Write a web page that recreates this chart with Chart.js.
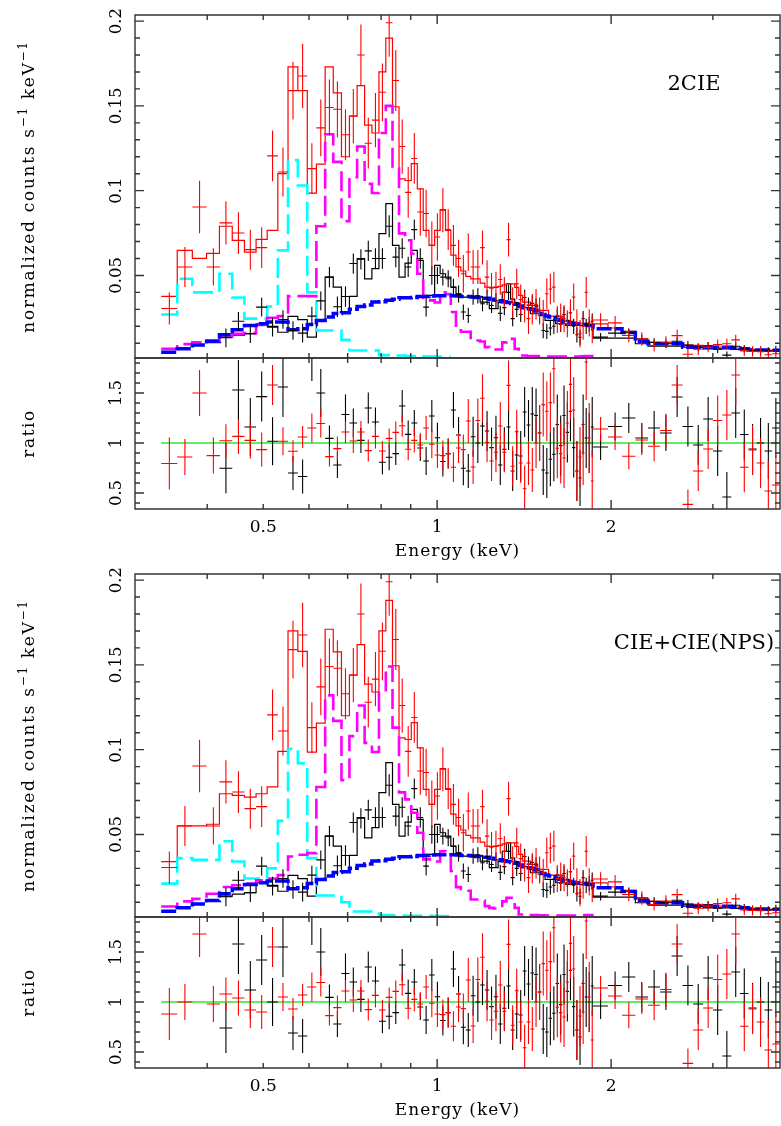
<!DOCTYPE html>
<html lang="en">
<head>
<meta charset="UTF-8">
<title>Spectra: 2CIE and CIE+CIE(NPS)</title>
<script src="https://cdn.jsdelivr.net/npm/chart.js"></script>
<style>
  body { margin: 0; background: #fff; }
  #wrap { position: relative; width: 781px; height: 1126px; overflow: hidden; }
  canvas { position: absolute; left: 0; }
</style>
</head>
<body>
<div id="wrap">
  <canvas id="spec1" width="781" height="372" style="top:0px"></canvas>
  <canvas id="ratio1" width="781" height="230" style="top:340px"></canvas>
  <canvas id="spec2" width="781" height="372" style="top:559px"></canvas>
  <canvas id="ratio2" width="781" height="230" style="top:899px"></canvas>
</div>
<script>
// ---- energy grid (keV): bin centres, 0.022 keV bins up to ~1.86 keV, then wide bins
const binE = [
  0.344, 0.366, 0.388, 0.410, 0.431, 0.453, 0.475, 0.497, 0.519, 0.541,
  0.563, 0.585, 0.607, 0.629, 0.651, 0.672, 0.694, 0.716, 0.738, 0.760,
  0.782, 0.804, 0.826, 0.848, 0.870, 0.891, 0.913, 0.935, 0.957, 0.979,
  1.001, 1.023, 1.045, 1.067, 1.089, 1.110, 1.132, 1.154, 1.176, 1.198,
  1.220, 1.242, 1.264, 1.286, 1.307, 1.329, 1.351, 1.373, 1.395, 1.417,
  1.439, 1.461, 1.483, 1.504, 1.526, 1.548, 1.570, 1.592, 1.614, 1.636,
  1.658, 1.680, 1.701, 1.723, 1.745, 1.767, 1.789, 1.811, 1.833, 1.855,
  1.918, 2.032, 2.146, 2.260, 2.374, 2.488, 2.602, 2.716, 2.830, 2.944,
  3.058, 3.172, 3.286, 3.400, 3.514, 3.628, 3.742, 3.856
];
const FINE_BINS = 70, FINE_HW = 0.011, WIDE_HW = 0.057;

// ---- data (normalized counts s^-1 keV^-1), shared by both fits
const redCounts = [
  0.0305, 0.055, 0.0904, 0.055, 0.081, 0.075, 0.0652, 0.0664, 0.1205, 0.111,
  0.159, 0.1676, 0.113, 0.137, 0.149, 0.148, 0.133, 0.144, 0.180, 0.128,
  0.1416, 0.158, 0.199, 0.165, 0.126, 0.099, 0.119, 0.0874, 0.0865, 0.0678,
  0.0727, 0.0884, 0.077, 0.0677, 0.060, 0.051, 0.0638, 0.055, 0.055, 0.0664,
  0.049, 0.0425, 0.0431, 0.0476, 0.040, 0.0711, 0.034, 0.045, 0.0357, 0.0313,
  0.0245, 0.030, 0.033, 0.029, 0.0275, 0.0392, 0.042, 0.0431, 0.024, 0.0255,
  0.0245, 0.0215, 0.028, 0.0372, 0.022, 0.0157, 0.020, 0.040, 0.022, 0.018,
  0.0237, 0.022, 0.0146, 0.0125, 0.0087, 0.0107, 0.0145, 0.0035, 0.0065, 0.0077,
  0.0092, 0.0097, 0.012, 0.0055, 0.0052, 0.005, 0.0032, 0.0038
];
const redCountErr = [
  0.0095, 0.0118, 0.0155, 0.011, 0.0128, 0.0123, 0.0118, 0.012, 0.015, 0.0145,
  0.017, 0.019, 0.015, 0.0167, 0.0165, 0.0165, 0.015, 0.016, 0.018, 0.015,
  0.016, 0.017, 0.02, 0.018, 0.016, 0.015, 0.015, 0.014, 0.014, 0.014,
  0.014, 0.013, 0.012, 0.012, 0.011, 0.011, 0.011, 0.010, 0.010, 0.010,
  0.010, 0.009, 0.009, 0.009, 0.009, 0.010, 0.009, 0.009, 0.009, 0.009,
  0.009, 0.009, 0.009, 0.008, 0.008, 0.009, 0.009, 0.009, 0.008, 0.008,
  0.008, 0.008, 0.008, 0.008, 0.008, 0.008, 0.008, 0.009, 0.008, 0.008,
  0.004, 0.004, 0.004, 0.004, 0.0035, 0.0035, 0.0035, 0.0035, 0.0035, 0.003,
  0.003, 0.003, 0.003, 0.003, 0.003, 0.003, 0.003, 0.003
];
const blackCounts = [
  null, null, null, null, 0.0132, 0.023, 0.0156, 0.0313, 0.0195, 0.024,
  0.0175, 0.016, 0.026, 0.035, 0.049, 0.0315, 0.0376, 0.057, 0.0595, 0.0645,
  0.060, 0.060, 0.079, 0.0608, 0.066, 0.055, 0.077, 0.060, 0.0313, 0.050,
  0.050, 0.049, 0.048, 0.043, 0.039, 0.0284, 0.0264, 0.0372, 0.038, 0.0333,
  0.037, 0.0323, 0.035, 0.0276, 0.031, 0.040, 0.0245, 0.030, 0.027, 0.037,
  0.0325, 0.0335, 0.032, 0.0265, 0.0175, 0.017, 0.019, 0.020, 0.026, 0.0212,
  0.027, 0.0235, 0.028, 0.020, 0.015, 0.0135, 0.0245, 0.020, 0.021, 0.023,
  0.0136, 0.016, 0.0162, 0.0125, 0.0105, 0.0097, 0.0112, 0.0088, 0.0077, 0.0085,
  0.0065, 0.003, 0.0082, 0.0067, 0.0058, 0.006, 0.0055, 0.0063
];
const blackCountErr = [
  null, null, null, null, 0.0055, 0.0055, 0.0055, 0.0055, 0.0055, 0.0055,
  0.0055, 0.0055, 0.0055, 0.0055, 0.006, 0.006, 0.006, 0.006, 0.006, 0.006,
  0.006, 0.006, 0.0065, 0.006, 0.006, 0.006, 0.006, 0.006, 0.0055, 0.0055,
  0.005, 0.005, 0.005, 0.005, 0.005, 0.0045, 0.0045, 0.0045, 0.0045, 0.0045,
  0.0045, 0.0045, 0.0045, 0.0045, 0.0045, 0.0045, 0.0045, 0.0045, 0.0045, 0.0045,
  0.0045, 0.0045, 0.0045, 0.0045, 0.0045, 0.0045, 0.0045, 0.0045, 0.0045, 0.0045,
  0.0045, 0.0045, 0.0045, 0.0045, 0.0045, 0.0045, 0.0045, 0.0045, 0.0045, 0.0045,
  0.0025, 0.0025, 0.0025, 0.0025, 0.0025, 0.0025, 0.0025, 0.0025, 0.0022, 0.0022,
  0.0022, 0.0022, 0.0022, 0.0022, 0.0022, 0.0022, 0.0022, 0.0022
];

// ---- model curves, fit 1 (2CIE)
const redModel1 = [
  0.0376, 0.0648, 0.060, 0.063, 0.079, 0.0707, 0.0638, 0.0713, 0.0766, 0.110,
  0.173, 0.159, 0.0986, 0.1156, 0.173, 0.1577, 0.12, 0.144, 0.162, 0.1386,
  0.134, 0.170, 0.190, 0.1495, 0.107, 0.106, 0.116, 0.101, 0.0766, 0.0677,
  0.0766, 0.0888, 0.0766, 0.062, 0.055, 0.0526, 0.0494, 0.048, 0.048, 0.0455,
  0.0431, 0.043, 0.043, 0.0435, 0.0444, 0.045, 0.045, 0.043, 0.0382, 0.0343,
  0.0343, 0.0323, 0.0323, 0.0294, 0.0294, 0.0294, 0.026, 0.026, 0.026, 0.026,
  0.023, 0.023, 0.023, 0.0218, 0.0218, 0.0218, 0.0218, 0.0208, 0.0208, 0.0208,
  0.0214, 0.019, 0.017, 0.0125, 0.0105, 0.0103, 0.0097, 0.009, 0.0087, 0.0082,
  0.0077, 0.0077, 0.0072, 0.0068, 0.0064, 0.0061, 0.0058, 0.0055
];
const blackModel = [
  null, null, null, null, 0.0136, 0.0148, 0.0156, 0.0215, 0.0199, 0.0165,
  0.0258, 0.0239, 0.0136, 0.0235, 0.049, 0.0431, 0.0284, 0.0376, 0.0599, 0.048,
  0.054, 0.0747, 0.0924, 0.0677, 0.049, 0.0573, 0.0648, 0.0589, 0.0382, 0.0382,
  0.0559, 0.051, 0.049, 0.0431, 0.0392, 0.0372, 0.0372, 0.0372, 0.0372, 0.0343,
  0.0343, 0.0304, 0.0304, 0.034, 0.040, 0.0451, 0.036, 0.034, 0.031, 0.031,
  0.031, 0.0274, 0.0274, 0.0274, 0.0274, 0.0235, 0.0235, 0.0235, 0.0215, 0.0215,
  0.0215, 0.0205, 0.0205, 0.0205, 0.0205, 0.0205, 0.0205, 0.0205, 0.0205, 0.0205,
  0.013, 0.013, 0.013, 0.0097, 0.0083, 0.0083, 0.0083, 0.0077, 0.0077, 0.0067,
  0.0067, 0.0067, 0.0063, 0.0063, 0.006, 0.0057, 0.0057, 0.0055
];
const blueModel = [
  0.0047, 0.0067, 0.009, 0.011, 0.015, 0.018, 0.0205, 0.0215, 0.0225, 0.0225,
  0.018, 0.0185, 0.021, 0.0234, 0.0255, 0.0275, 0.028, 0.030, 0.0317, 0.0325,
  0.0343, 0.0345, 0.0353, 0.036, 0.0368, 0.0368, 0.037, 0.0376, 0.0376, 0.0378,
  0.038, 0.038, 0.038, 0.038, 0.0378, 0.0376, 0.0376, 0.0373, 0.037, 0.0366,
  0.0366, 0.036, 0.0355, 0.035, 0.0345, 0.034, 0.0335, 0.033, 0.032, 0.031,
  0.0304, 0.030, 0.029, 0.0275, 0.027, 0.026, 0.0255, 0.025, 0.024, 0.0235,
  0.023, 0.0225, 0.022, 0.0218, 0.0215, 0.0213, 0.021, 0.021, 0.0205, 0.0205,
  0.0186, 0.0186, 0.0164, 0.011, 0.0097, 0.0097, 0.0097, 0.0077, 0.0077, 0.0077,
  0.0077, 0.0077, 0.0072, 0.0068, 0.006, 0.006, 0.006, 0.0058
];
const cyanModel1 = [
  0.027, 0.048, 0.040, 0.040, 0.051, 0.037, 0.0245, 0.0245, 0.0317, 0.0648,
  0.118, 0.103, 0.040, 0.0175, 0.0175, 0.0175, 0.012, 0.0057, 0.0057, 0.0057,
  0.0057, 0.003, 0.003, 0.0028, 0.0028, 0.0025, 0.0025, 0.0025, 0.0022, 0.0022,
  0.002, 0.002, 0.002, null, null, null, null, null, null, null,
  null, null, null, null, null, null, null, null, null, null,
  null, null, null, null, null, null, null, null, null, null,
  null, null, null, null, null, null, null, null, null, null,
  null, null, null, null, null, null, null, null, null, null,
  null, null, null, null, null, null, null, null
];
const magentaModel1 = [
  0.0067, 0.0095, 0.0106, 0.0118, 0.014, 0.0156, 0.016, 0.0208, 0.025, 0.026,
  0.0378, 0.0378, 0.0378, 0.079, 0.1333, 0.117, 0.082, 0.108, 0.126, 0.104,
  0.0986, 0.134, 0.150, 0.113, 0.0748, 0.0707, 0.0628, 0.051, 0.0353, 0.0353,
  0.034, 0.040, 0.039, 0.0284, 0.0189, 0.0168, 0.0168, 0.0116, 0.0116, 0.011,
  0.0077, 0.0067, 0.0063, 0.0063, 0.0105, 0.0126, 0.0126, 0.0067, 0.0028, 0.0028,
  0.0025, 0.0025, 0.0025, 0.0023, 0.0023, 0.0022, 0.0022, 0.0022, 0.0022, 0.0022,
  0.0022, 0.0022, 0.0022, 0.0022, 0.0022, 0.0022, 0.0023, 0.0025, 0.0025, 0.0025,
  null, null, null, null, null, null, null, null, null, null,
  null, null, null, null, null, null, null, null
];

// ---- model curves, fit 2 (CIE+CIE(NPS))
const redModel2 = [
  0.034, 0.055, 0.055, 0.056, 0.074, 0.073, 0.072, 0.074, 0.078, 0.099,
  0.170, 0.158, 0.0986, 0.1156, 0.171, 0.1577, 0.12, 0.144, 0.162, 0.1386,
  0.134, 0.170, 0.188, 0.1495, 0.107, 0.106, 0.116, 0.101, 0.0766, 0.0677,
  0.0766, 0.0888, 0.0766, 0.062, 0.055, 0.0526, 0.0494, 0.048, 0.048, 0.0455,
  0.0431, 0.043, 0.043, 0.0435, 0.0444, 0.045, 0.045, 0.043, 0.0382, 0.0343,
  0.0343, 0.0323, 0.0323, 0.0294, 0.0294, 0.0294, 0.026, 0.026, 0.026, 0.026,
  0.023, 0.023, 0.023, 0.0218, 0.0218, 0.0218, 0.0218, 0.0208, 0.0208, 0.0208,
  0.0214, 0.019, 0.017, 0.0125, 0.0105, 0.0103, 0.0097, 0.009, 0.0087, 0.0082,
  0.0077, 0.0077, 0.0072, 0.0068, 0.0064, 0.0061, 0.0058, 0.0055
];
const cyanModel2 = [
  0.021, 0.036, 0.035, 0.035, 0.046, 0.034, 0.024, 0.024, 0.030, 0.058,
  0.1005, 0.092, 0.036, 0.014, 0.014, 0.014, 0.010, 0.0045, 0.0045, 0.0045,
  0.0045, 0.0025, 0.0025, 0.0022, 0.0022, 0.002, 0.002, 0.002, 0.002, 0.002,
  0.0018, 0.0018, 0.0018, null, null, null, null, null, null, null,
  null, null, null, null, null, null, null, null, null, null,
  null, null, null, null, null, null, null, null, null, null,
  null, null, null, null, null, null, null, null, null, null,
  null, null, null, null, null, null, null, null, null, null,
  null, null, null, null, null, null, null, null
];
const magentaModel2 = [
  0.0075, 0.0105, 0.012, 0.015, 0.019, 0.020, 0.021, 0.023, 0.024, 0.026,
  0.037, 0.038, 0.039, 0.078, 0.132, 0.117, 0.082, 0.108, 0.126, 0.104,
  0.0986, 0.134, 0.149, 0.113, 0.0748, 0.0707, 0.0628, 0.051, 0.0353, 0.0353,
  0.034, 0.040, 0.039, 0.0284, 0.0189, 0.0168, 0.0168, 0.0116, 0.0116, 0.011,
  0.0077, 0.0067, 0.0063, 0.0063, 0.0105, 0.0126, 0.0126, 0.0067, 0.0028, 0.0028,
  0.0025, 0.0025, 0.0025, 0.0023, 0.0023, 0.0022, 0.0022, 0.0022, 0.0022, 0.0022,
  0.0022, 0.0022, 0.0022, 0.0022, 0.0022, 0.0022, 0.0023, 0.0025, 0.0025, 0.0025,
  null, null, null, null, null, null, null, null, null, null,
  null, null, null, null, null, null, null, null
];

// ---- data / model ratios
const redRatio1 = [
  0.795, 0.86, 1.5, 0.874, 1.023, 1.066, 1.026, 0.934, 1.58, 1.017,
  0.917, 1.06, 1.15, 1.195, 0.864, 0.944, 1.11, 1.02, 1.11, 0.924,
  1.066, 0.92, 1.046, 1.106, 1.172, 0.937, 1.026, 0.98, 1.15, 0.987,
  0.88, 0.874, 0.894, 0.758, 0.95, 0.934, 1.22, 0.76, 1.225, 1.447,
  1.007, 0.82, 0.907, 1.17, 0.907, 1.576, 0.768, 1.113, 0.8, 0.543,
  0.8, 0.73, 1.0, 1.1, 1.384, 1.318, 1.404, 1.742, 0.947, 0.894,
  0.85, 1.2, 1.586, 1.33, 0.72, 0.86, 0.9, 1.81, 1.05, 0.62,
  1.14, 1.06, 0.867, 1.03, 0.967, 1.125, 1.58, 0.386, 0.72, 0.94,
  1.225, 1.28, 1.68, 0.757, 0.93, 0.8, 0.52, 0.58
];
const redRatio2 = [
  0.88, 1.0, 1.68, 0.98, 1.08, 1.04, 0.92, 0.9, 1.55, 1.05,
  0.93, 1.07, 1.15, 1.195, 0.864, 0.944, 1.11, 1.02, 1.11, 0.924,
  1.066, 0.92, 1.046, 1.106, 1.172, 0.937, 1.026, 0.98, 1.15, 0.987,
  0.88, 0.874, 0.894, 0.758, 0.95, 0.934, 1.22, 0.76, 1.225, 1.447,
  1.007, 0.82, 0.907, 1.17, 0.907, 1.576, 0.768, 1.113, 0.8, 0.543,
  0.8, 0.73, 1.0, 1.1, 1.384, 1.318, 1.404, 1.742, 0.947, 0.894,
  0.85, 1.2, 1.586, 1.33, 0.72, 0.86, 0.9, 1.81, 1.05, 0.62,
  1.14, 1.06, 0.867, 1.03, 0.967, 1.125, 1.58, 0.386, 0.72, 0.94,
  1.225, 1.28, 1.68, 0.757, 0.93, 0.8, 0.52, 0.58
];
const redRatioErr = [
  0.26, 0.18, 0.23, 0.18, 0.165, 0.175, 0.18, 0.17, 0.2, 0.14,
  0.11, 0.11, 0.145, 0.14, 0.1, 0.12, 0.11, 0.12, 0.11, 0.11,
  0.12, 0.1, 0.1, 0.11, 0.11, 0.11, 0.12, 0.12, 0.12, 0.14,
  0.13, 0.15, 0.15, 0.15, 0.15, 0.15, 0.22, 0.17, 0.22, 0.24,
  0.2, 0.2, 0.2, 0.24, 0.2, 0.25, 0.2, 0.22, 0.2, 0.23,
  0.22, 0.22, 0.25, 0.28, 0.32, 0.3, 0.3, 0.35, 0.3, 0.3,
  0.3, 0.32, 0.35, 0.33, 0.3, 0.3, 0.32, 0.38, 0.35, 0.3,
  0.12, 0.13, 0.13, 0.15, 0.15, 0.17, 0.2, 0.15, 0.2, 0.2,
  0.25, 0.25, 0.3, 0.25, 0.25, 0.25, 0.3, 0.3
];
const blackRatio1 = [
  null, null, null, null, 0.748, 1.53, 1.16, 1.464, 1.017, 1.56,
  0.7, 0.665, 1.95, 1.5, 1.046, 0.78, 1.285, 1.2, 1.026, 1.35,
  1.21, 0.808, 0.858, 0.894, 1.37, 1.086, 1.2, 0.95, 0.82, 1.27,
  1.053, 0.815, 0.894, 1.33, 1.08, 0.748, 0.72, 1.063, 1.0, 1.17,
  1.12, 0.954, 1.053, 0.78, 0.937, 1.16, 0.72, 0.88, 0.87, 1.31,
  1.18, 1.29, 1.275, 1.1, 0.73, 0.7, 0.838, 0.887, 1.185, 0.974,
  1.275, 1.106, 1.318, 0.954, 0.72, 0.65, 1.185, 1.05, 1.0, 1.16,
  0.96, 1.165, 1.25, 1.05, 1.15, 1.1, 1.46, 1.165, 0.98, 1.24,
  0.92, 0.46, 1.3, 1.085, 0.94, 1.0, 0.92, 1.15
];
const blackRatio2 = [
  null, null, null, null, 0.74, 1.58, 1.12, 1.42, 1.0, 1.55,
  0.69, 0.66, 1.9, 1.5, 1.046, 0.78, 1.285, 1.2, 1.026, 1.35,
  1.21, 0.808, 0.858, 0.894, 1.37, 1.086, 1.2, 0.95, 0.82, 1.27,
  1.053, 0.815, 0.894, 1.33, 1.08, 0.748, 0.72, 1.063, 1.0, 1.17,
  1.12, 0.954, 1.053, 0.78, 0.937, 1.16, 0.72, 0.88, 0.87, 1.31,
  1.18, 1.29, 1.275, 1.1, 0.73, 0.7, 0.838, 0.887, 1.185, 0.974,
  1.275, 1.106, 1.318, 0.954, 0.72, 0.65, 1.185, 1.05, 1.0, 1.16,
  0.96, 1.165, 1.25, 1.05, 1.15, 1.1, 1.46, 1.165, 0.98, 1.24,
  0.92, 0.46, 1.3, 1.085, 0.94, 1.0, 0.92, 1.15
];
const blackRatioErr = [
  null, null, null, null, 0.25, 0.3, 0.29, 0.25, 0.24, 0.3,
  0.17, 0.17, 0.33, 0.24, 0.13, 0.13, 0.2, 0.145, 0.125, 0.155,
  0.145, 0.12, 0.13, 0.115, 0.16, 0.14, 0.13, 0.13, 0.14, 0.16,
  0.15, 0.15, 0.15, 0.18, 0.18, 0.17, 0.17, 0.2, 0.2, 0.2,
  0.2, 0.2, 0.22, 0.2, 0.22, 0.23, 0.2, 0.25, 0.25, 0.25,
  0.25, 0.27, 0.27, 0.28, 0.25, 0.25, 0.27, 0.27, 0.3, 0.3,
  0.3, 0.3, 0.3, 0.3, 0.3, 0.28, 0.3, 0.3, 0.3, 0.3,
  0.13, 0.14, 0.15, 0.15, 0.17, 0.18, 0.2, 0.2, 0.2, 0.22,
  0.25, 0.25, 0.25, 0.25, 0.25, 0.25, 0.28, 0.3
];
const ratioUnity = 1;

// ---- axes
const X_MIN = 0.3, X_MAX = 3.92;
const SPEC_MIN = 0.0013, SPEC_MAX = 0.2036;
const RATIO_MIN = 0.34, RATIO_MAX = 1.85;
const xMajorTicks = [1, 2];
const xMinorTicks = [0.3, 0.4, 0.5, 0.6, 0.7, 0.8, 0.9, 3];
const xTickLabels = ['0.5', '1', '2'];
const specMajorTicks = [0.05, 0.1, 0.15, 0.2];
const specMinorTicks = [0.01, 0.02, 0.03, 0.04, 0.06, 0.07, 0.08, 0.09, 0.11, 0.12,
                        0.13, 0.14, 0.16, 0.17, 0.18, 0.19];
const specTickLabels = ['0.05', '0.1', '0.15', '0.2'];
const ratioMajorTicks = [0.5, 1, 1.5];
const ratioMinorTicks = [0.4, 0.6, 0.7, 0.8, 0.9, 1.1, 1.2, 1.3, 1.4, 1.6, 1.7, 1.8];
const ratioTickLabels = ['0.5', '1', '1.5'];

const FONT = '"DejaVu Serif", serif';

function halfWidth(i) { return i < FINE_BINS ? FINE_HW : WIDE_HW; }

// histogram steps: one point at each bin's lower edge, plus the upper edge of a run's last bin
function stepPoints(vals) {
  const pts = [];
  vals.forEach((v, i) => {
    if (v === null) {
      if (pts.length && pts[pts.length - 1].y !== null) pts.push({ x: binE[i], y: null });
      return;
    }
    pts.push({ x: binE[i] - halfWidth(i), y: v });
    const next = vals[i + 1];
    if (next === undefined || next === null) pts.push({ x: binE[i] + halfWidth(i), y: v });
  });
  return pts;
}

function stepSet(vals, color, width, dash) {
  return {
    data: stepPoints(vals), borderColor: color, borderWidth: width,
    borderDash: dash || [], stepped: true, pointRadius: 0, fill: false, spanGaps: false
  };
}

function vText(ctx, txt, x, y) {
  ctx.save();
  ctx.translate(x, y);
  ctx.rotate(-Math.PI / 2);
  ctx.textAlign = 'center';
  ctx.textBaseline = 'middle';
  ctx.fillText(txt, 0, 0);
  ctx.restore();
}

// frame, inward ticks, labels and error-bar crosses (PGPLOT look)
const pgPlugin = {
  id: 'pg',
  afterDatasetsDraw(chart, args, o) {
    const { ctx, chartArea: a } = chart;
    const xs = chart.scales.x, ys = chart.scales.y;
    const seg = (x0, y0, x1, y1) => { ctx.moveTo(x0, y0); ctx.lineTo(x1, y1); };

    ctx.save();
    ctx.beginPath();
    ctx.rect(a.left, a.top, a.right - a.left, a.bottom - a.top);
    ctx.clip();
    ctx.lineWidth = 1.1;
    o.crosses.forEach(s => {
      ctx.strokeStyle = s.color;
      ctx.beginPath();
      s.vals.forEach((v, i) => {
        if (v === null) return;
        const hw = halfWidth(i);
        const y = ys.getPixelForValue(v);
        const xc = xs.getPixelForValue(binE[i]);
        seg(xs.getPixelForValue(binE[i] - hw), y, xs.getPixelForValue(binE[i] + hw), y);
        seg(xc, ys.getPixelForValue(v - s.errs[i]), xc, ys.getPixelForValue(v + s.errs[i]));
      });
      ctx.stroke();
    });
    ctx.restore();

    ctx.save();
    ctx.strokeStyle = '#333';
    ctx.lineWidth = 1.4;
    ctx.beginPath();
    ctx.rect(a.left, a.top, a.right - a.left, a.bottom - a.top);
    const xt = (v, len) => { const p = xs.getPixelForValue(v); seg(p, a.top, p, a.top + len); seg(p, a.bottom, p, a.bottom - len); };
    const yt = (v, len) => { const p = ys.getPixelForValue(v); seg(a.left, p, a.left + len, p); seg(a.right, p, a.right - len, p); };
    xMinorTicks.forEach(v => xt(v, 5));
    xMajorTicks.forEach(v => xt(v, 9));
    o.yMinor.forEach(v => yt(v, 5));
    o.yMajor.forEach(v => yt(v, 9));
    ctx.stroke();

    ctx.fillStyle = '#000';
    ctx.font = '16.5px ' + FONT;
    o.yMajor.forEach((v, i) => vText(ctx, o.yLabels[i], a.left - 18, ys.getPixelForValue(v)));

    if (o.xLabels) {
      ctx.textAlign = 'center';
      ctx.textBaseline = 'middle';
      ctx.font = '17px ' + FONT;
      [0.5, 1, 2].forEach((v, i) => ctx.fillText(xTickLabels[i], xs.getPixelForValue(v), a.bottom + 19));
      ctx.letterSpacing = '1px';
      ctx.fillText('Energy (keV)', (a.left + a.right) / 2, a.bottom + 43);
      ctx.letterSpacing = '0px';
    }

    // y-axis title, possibly with superscripts
    const yc = (a.top + a.bottom) / 2;
    ctx.save();
    ctx.translate(30, yc);
    ctx.rotate(-Math.PI / 2);
    ctx.textBaseline = 'middle';
    ctx.textAlign = 'left';
    ctx.letterSpacing = o.titleSpacing;
    const base = '17px ' + FONT, sup = '12px ' + FONT;
    let total = 0;
    o.title.forEach(p => { ctx.font = p.sup ? sup : base; total += ctx.measureText(p.t).width; });
    let cx = -total / 2;
    o.title.forEach(p => {
      ctx.font = p.sup ? sup : base;
      ctx.fillText(p.t, cx, p.sup ? -6 : 0);
      cx += ctx.measureText(p.t).width;
    });
    ctx.restore();

    if (o.tag) {
      ctx.font = '21px ' + FONT;
      ctx.textAlign = 'center';
      ctx.textBaseline = 'middle';
      ctx.fillText(o.tag, 694, 85);
    }
    ctx.restore();
  }
};

function baseOptions(pad, yMin, yMax, pg) {
  return {
    responsive: false, animation: false, devicePixelRatio: 1, events: [],
    layout: { padding: pad },
    scales: {
      x: { type: 'logarithmic', min: X_MIN, max: X_MAX, display: false },
      y: { type: 'linear', min: yMin, max: yMax, display: false }
    },
    plugins: { legend: { display: false }, tooltip: { enabled: false }, pg: pg }
  };
}

const countsTitle = [
  { t: 'normalized counts s' }, { t: '\u22121', sup: true },
  { t: ' keV' }, { t: '\u22121', sup: true }
];

function specChart(id, redM, cyanM, magM, tag) {
  return new Chart(document.getElementById(id), {
    type: 'line',
    data: {
      datasets: [
        stepSet(blueModel, 'rgb(0,0,255)', 3.5, [15, 3]),
        stepSet(magM, 'rgb(255,0,255)', 2.6, [20, 7]),
        stepSet(cyanM, 'rgb(0,255,255)', 2.6, [20, 7]),
        stepSet(redM, 'rgb(255,0,0)', 1.2),
        stepSet(blackModel, 'rgb(0,0,0)', 1.2)
      ]
    },
    options: baseOptions({ left: 135, right: 1, top: 15, bottom: 14 }, SPEC_MIN, SPEC_MAX, {
      crosses: [
        { vals: blackCounts, errs: blackCountErr, color: '#000' },
        { vals: redCounts, errs: redCountErr, color: 'rgb(255,0,0)' }
      ],
      yMajor: specMajorTicks, yMinor: specMinorTicks, yLabels: specTickLabels,
      title: countsTitle, titleSpacing: '1.7px', tag: tag, xLabels: false
    }),
    plugins: [pgPlugin]
  });
}

function ratioChart(id, redR, blackR) {
  return new Chart(document.getElementById(id), {
    type: 'line',
    data: {
      datasets: [{
        data: [{ x: binE[0] - FINE_HW, y: ratioUnity }, { x: X_MAX, y: ratioUnity }],
        borderColor: 'rgb(100,235,100)', borderWidth: 2, pointRadius: 0, fill: false
      }]
    },
    options: baseOptions({ left: 135, right: 1, top: 18, bottom: 61 }, RATIO_MIN, RATIO_MAX, {
      crosses: [
        { vals: blackR, errs: blackRatioErr, color: '#000' },
        { vals: redR, errs: redRatioErr, color: 'rgb(255,0,0)' }
      ],
      yMajor: ratioMajorTicks, yMinor: ratioMinorTicks, yLabels: ratioTickLabels,
      title: [{ t: 'ratio' }], titleSpacing: '1.5px', tag: null, xLabels: true
    }),
    plugins: [pgPlugin]
  });
}

specChart('spec1', redModel1, cyanModel1, magentaModel1, '2CIE');
ratioChart('ratio1', redRatio1, blackRatio1);
specChart('spec2', redModel2, cyanModel2, magentaModel2, 'CIE+CIE(NPS)');
ratioChart('ratio2', redRatio2, blackRatio2);
</script>
</body>
</html>
